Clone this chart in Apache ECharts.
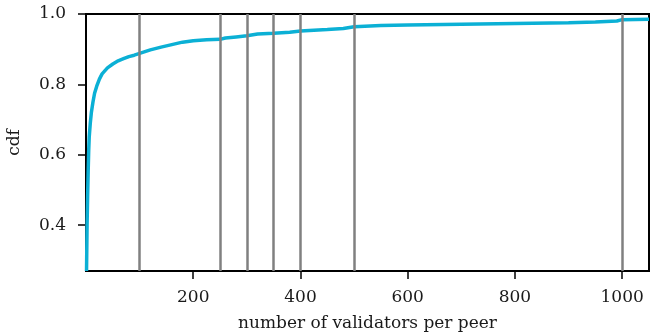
<!DOCTYPE html>
<html>
<head>
<meta charset="utf-8">
<script src="https://cdn.jsdelivr.net/npm/echarts@6/dist/echarts.min.js"></script>
<style>
  html, body { margin: 0; padding: 0; background: #fff; }
  #chart { width: 656px; height: 333px; }
</style>
</head>
<body>
<div id="chart"></div>
<script>
// validators per peer (x) and cumulative fraction (y)
const validators = [1, 2, 3, 4, 5, 6, 8, 10, 13, 16, 20, 25, 30, 40, 50, 60, 70, 80, 90, 100,
  120, 140, 160, 180, 200, 225, 250, 260, 280, 300, 320, 350, 380, 400, 450, 480, 500,
  550, 600, 700, 800, 900, 950, 990, 1000, 1050]
const cdfValues = [0.27, 0.40, 0.48, 0.55, 0.61, 0.65, 0.69, 0.72, 0.75, 0.775, 0.795, 0.815, 0.83, 0.847, 0.858, 0.867, 0.873, 0.879, 0.883, 0.888,
  0.898, 0.906, 0.913, 0.92, 0.924, 0.927, 0.928, 0.932, 0.935, 0.938, 0.943, 0.945, 0.948, 0.952, 0.956, 0.959, 0.964,
  0.967, 0.969, 0.971, 0.973, 0.975, 0.977, 0.98, 0.984, 0.985]
const thresholds = [100, 250, 300, 350, 400, 500, 1000]
const xTicks = [200, 400, 600, 800, 1000]
const yTicks = [0.4, 0.6, 0.8, 1.0]

const font = 'DejaVu Serif'
const chart = echarts.init(document.getElementById('chart'))

const option = {
  animation: false,
  backgroundColor: '#fff',
  grid: {
    left: 86, right: 7, top: 14, bottom: 62,
    outerBoundsMode: 'none',
    show: true, borderColor: '#000', borderWidth: 2
  },
  xAxis: {
    type: 'value',
    min: 0,
    max: 1050,
    name: 'number of validators per peer',
    nameLocation: 'middle',
    nameGap: 44,
    nameTextStyle: { fontFamily: font, fontSize: 17, color: '#1a1a1a' },
    axisLine: { show: false },
    axisTick: { customValues: xTicks, length: 8, lineStyle: { color: '#000', width: 1.5 } },
    axisLabel: {
      customValues: xTicks, margin: 18, fontFamily: font, fontSize: 17, color: '#1a1a1a',
      formatter: (val) => String(val)
    },
    splitLine: { show: false }
  },
  yAxis: {
    type: 'value',
    min: 0.27,
    max: 1.0,
    name: 'cdf',
    nameLocation: 'middle',
    nameGap: 63,
    nameTextStyle: { fontFamily: font, fontSize: 17, color: '#1a1a1a' },
    axisLine: { show: false },
    axisTick: { customValues: yTicks, length: 8, lineStyle: { color: '#000', width: 1.5 } },
    axisLabel: {
      customValues: yTicks, margin: 20, fontFamily: font, fontSize: 17, color: '#1a1a1a',
      formatter: (val) => val.toFixed(1)
    },
    splitLine: { show: false }
  },
  series: [
    {
      // grey reference lines
      type: 'line',
      data: [],
      z: 1,
      markLine: {
        silent: true,
        symbol: 'none',
        label: { show: false },
        lineStyle: { color: '#808080', width: 2.5, type: 'solid' },
        data: thresholds.map(v => ({ xAxis: v }))
      }
    },
    {
      type: 'line',
      z: 2,
      data: validators.map((v, i) => [v, cdfValues[i]]),
      showSymbol: false,
      symbol: 'none',
      lineStyle: { color: '#0bb0d5', width: 3.5 }
    }
  ]
}

chart.setOption(option)
</script>
</body>
</html>
